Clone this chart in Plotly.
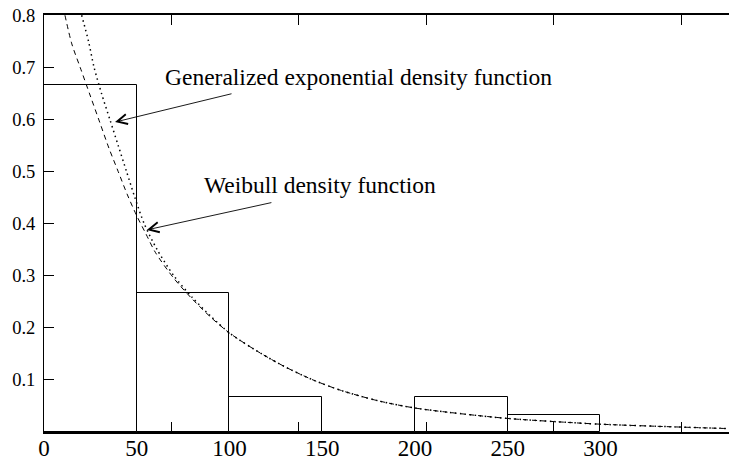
import plotly.graph_objects as go

# Histogram (bin left edges, bin width 50) and relative frequencies
bin_left = [0, 50, 100, 150, 200, 250]
bin_width = 50
freq = [0.667, 0.267, 0.067, 0.0, 0.067, 0.033]

# Weibull density function (dashed)
weib_x = [11.3, 15, 19.5, 25, 30, 35, 40, 45, 50, 55, 60, 70, 80, 90, 100,
          115, 130, 145, 160, 180, 200, 225, 250, 275, 300, 330, 373.6]
weib_y = [0.80, 0.745, 0.70, 0.645, 0.595, 0.545, 0.50, 0.455, 0.415, 0.38,
          0.345, 0.295, 0.255, 0.22, 0.19, 0.155, 0.125, 0.10, 0.08, 0.06,
          0.046, 0.035, 0.026, 0.02, 0.015, 0.011, 0.006]

# Generalized exponential density function (dotted)
gexp_x = [20.3, 24, 27, 31, 35.5, 40, 44.5, 49, 54, 61, 70, 80, 90, 100,
          115, 130, 145, 160, 180, 200, 225, 250, 275, 300, 330, 373.6]
gexp_y = [0.80, 0.75, 0.70, 0.65, 0.60, 0.55, 0.50, 0.45, 0.40, 0.35, 0.30,
          0.258, 0.222, 0.19, 0.155, 0.125, 0.10, 0.08, 0.06, 0.046, 0.035,
          0.026, 0.02, 0.015, 0.011, 0.006]

# Axis ticks
xlabel_vals = [0, 50, 100, 150, 200, 250, 300]
xtick_marks = [68.7, 137.4, 206.1, 274.8, 343.5]
ytick_vals = [0.1, 0.2, 0.3, 0.4, 0.5, 0.6, 0.7, 0.8]

X_MAX = 373.6
FONT = "Liberation Serif"

fig = go.Figure()

fig.add_trace(go.Bar(
    x=bin_left, y=freq, width=bin_width, offset=0,
    marker=dict(color="rgba(0,0,0,0)", line=dict(color="black", width=1)),
    xaxis="x2", yaxis="y", showlegend=False, hoverinfo="skip",
))

fig.add_trace(go.Scatter(
    x=weib_x, y=weib_y, mode="lines",
    line=dict(color="black", width=1, dash="5px,4px", shape="spline", smoothing=0.8),
    xaxis="x", yaxis="y", showlegend=False,
))

fig.add_trace(go.Scatter(
    x=gexp_x, y=gexp_y, mode="lines",
    line=dict(color="black", width=1.5, dash="1.5px,3.5px", shape="spline", smoothing=0.8),
    xaxis="x", yaxis="y", showlegend=False,
))

ann_font = dict(family=FONT, size=23.5, color="black")
annotations = [
    dict(x=169.5, y=0.681, xref="x", yref="y", text="Generalized exponential density function",
         showarrow=False, font=ann_font),
    dict(x=38.3, y=0.595, ax=101.9, ay=0.650, xref="x", yref="y", axref="x", ayref="y",
         text="", showarrow=True, arrowhead=5, arrowsize=2.2, arrowwidth=0.9, arrowcolor="black"),
    dict(x=148.8, y=0.474, xref="x", yref="y", text="Weibull density function",
         showarrow=False, font=ann_font),
    dict(x=55.4, y=0.388, ax=123.4, ay=0.441, xref="x", yref="y", axref="x", ayref="y",
         text="", showarrow=True, arrowhead=5, arrowsize=2.2, arrowwidth=0.9, arrowcolor="black"),
]

fig.update_layout(
    width=729, height=450,
    margin=dict(l=36, r=0, t=7, b=26),
    paper_bgcolor="white", plot_bgcolor="white",
    bargap=0,
    annotations=annotations,
    xaxis=dict(
        range=[0, X_MAX], tickvals=xtick_marks, ticks="inside", ticklen=10,
        tickwidth=1, tickcolor="black", showticklabels=False,
        showline=True, linecolor="black", linewidth=1.5, mirror="ticks",
        showgrid=False, zeroline=False, automargin=False,
    ),
    xaxis2=dict(
        range=[0, X_MAX], overlaying="x", side="bottom", tickvals=xlabel_vals,
        ticktext=[str(v) for v in xlabel_vals], ticks="", showline=False,
        showgrid=False, zeroline=False, ticklabelstandoff=0, automargin=False,
        ticklabeloverflow="allow",
        tickfont=dict(family=FONT, size=23, color="black"),
    ),
    yaxis=dict(
        range=[0, 0.8005], tickvals=ytick_vals, ticktext=[f"{v:.1f}" for v in ytick_vals],
        ticks="inside", ticklen=10, tickwidth=1, tickcolor="black",
        showline=True, linecolor="black", linewidth=1, showgrid=False, zeroline=False,
        ticklabelstandoff=4, automargin=False, ticklabeloverflow="allow",
        tickfont=dict(family=FONT, size=18.5, color="black"),
    ),
)

fig.write_html("out.html")
